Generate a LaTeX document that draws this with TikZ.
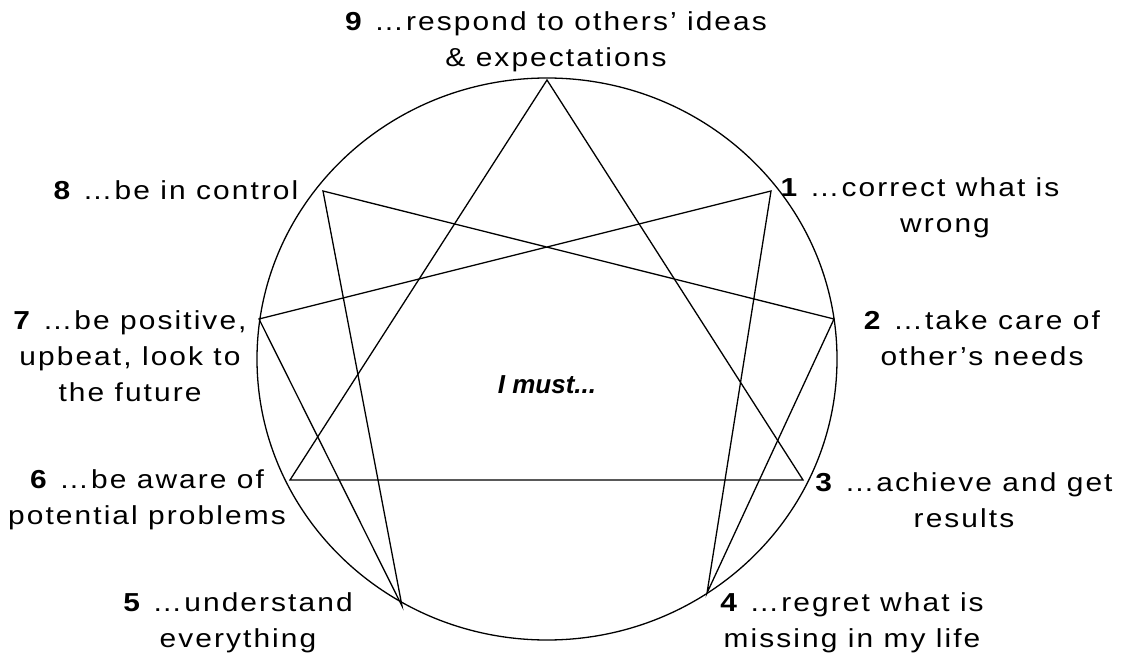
\documentclass[tikz,border=0pt]{standalone}
\usepackage{fontspec}
\setmainfont{Liberation Sans}[FakeStretch=1.15,LetterSpace=8]
\newfontfamily\tightfont{Liberation Sans}
\tikzset{
  lab/.style={font=\fontsize{26}{36}\selectfont, align=center, inner sep=0pt},
  ln/.style={line width=1.3pt, line join=miter}
}
\begin{document}
\begin{tikzpicture}[x=1pt,y=-1pt]
\useasboundingbox (0,0) rectangle (1121,655);
% points
\coordinate (p9) at (547,80);
\coordinate (p1) at (771,191);
\coordinate (p2) at (834,319);
\coordinate (p3) at (803,480);
\coordinate (p4) at (707,593);
\coordinate (p5) at (402,606);
\coordinate (p6) at (290,480);
\coordinate (p7) at (259,319);
\coordinate (p8) at (323,191);
\coordinate (c) at (547,359);
\draw[ln] (c) ellipse [x radius=290pt, y radius=281pt];
\draw[ln] (p9) -- (p3) -- (p6) -- cycle;
\draw[ln] (p1) -- (p4) -- (p2) -- (p8) -- (p5) -- (p7) -- cycle;
% labels
\node[lab] (t9) at (556,42) {\textbf{9} …respond to others’ ideas\\ \& expectations};
\node[lab] (t8) at (176,190) {\textbf{8} …be in control};
\node[lab] (t1) at (920,208) {\textbf{1} …correct what is\\ \hspace*{50pt}wrong};
\node[lab] (t7) at (130,356) {\textbf{7} …be positive,\\ upbeat, look to\\ the future};
\node[lab] (t2) at (982,338) {\textbf{2} …take care of\\ other’s needs};
\node[lab] (t6) at (147,500) {\textbf{6} …be aware of\\ potential problems};
\node[lab] (t3) at (964,500) {\textbf{3} …achieve and get\\ results};
\node[lab] (t5) at (238,623) {\textbf{5} …understand\\ everything};
\node[lab] (t4) at (852,623) {\textbf{4} …regret what is\\ missing in my life};
\node[lab] (tm) at (547,385) {\tightfont\bfseries\itshape I must...};
\end{tikzpicture}
\end{document}
